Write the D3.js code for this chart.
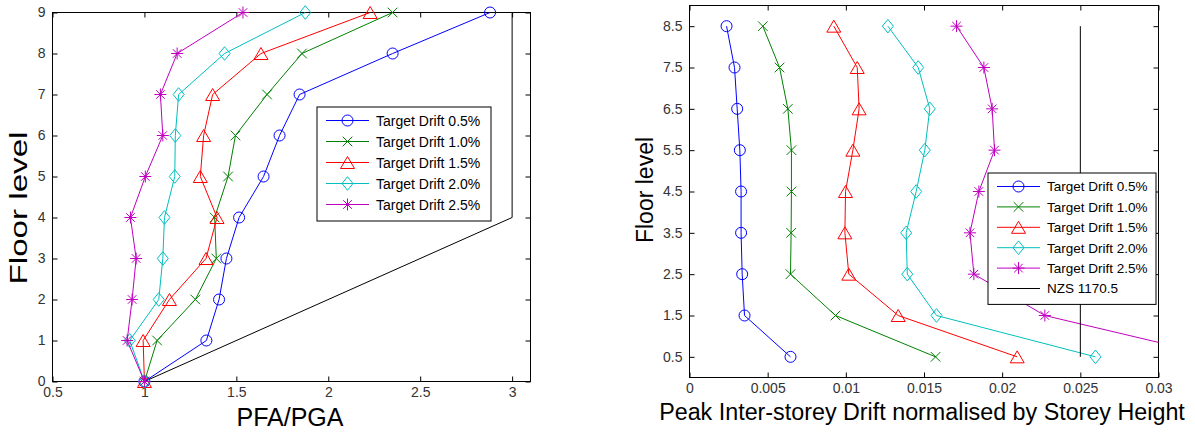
<!DOCTYPE html>
<html>
<head>
<meta charset="utf-8">
<script src="https://cdn.jsdelivr.net/npm/d3@7"></script>
<style>
  html, body { margin: 0; padding: 0; background: #fff; }
  svg { display: block; font-family: "Liberation Sans", Arial, sans-serif; }
  .tick text { fill: #333; }
</style>
</head>
<body>
<svg id="fig" width="1195" height="432"></svg>
<script>
// ---- Peak floor acceleration ratio per floor ----
const floorsL = [0, 1, 2, 3, 4, 5, 6, 7, 8, 9];
const pfa05 = [1.0, 1.337, 1.406, 1.446, 1.515, 1.648, 1.735, 1.844, 2.35, 2.88];
const pfa10 = [1.0, 1.069, 1.277, 1.391, 1.382, 1.455, 1.495, 1.667, 1.857, 2.35];
const pfa15 = [1.0, 0.993, 1.136, 1.335, 1.395, 1.304, 1.322, 1.371, 1.634, 2.228];
const pfa20 = [1.0, 0.92, 1.078, 1.10, 1.109, 1.165, 1.168, 1.186, 1.436, 1.875];
const pfa25 = [1.0, 0.906, 0.933, 0.955, 0.924, 1.005, 1.10, 1.087, 1.178, 1.536];
const codePfaX = [1, 3, 3];
const codePfaY = [0, 4, 9];
const xTicksL = [0.5, 1, 1.5, 2, 2.5, 3];
const yTicksL = [0, 1, 2, 3, 4, 5, 6, 7, 8, 9];

// ---- Peak inter-storey drift per storey ----
const floorsR = [0.5, 1.5, 2.5, 3.5, 4.5, 5.5, 6.5, 7.5, 8.5];
const drift05 = [0.00646, 0.00352, 0.00337, 0.0033, 0.0033, 0.00322, 0.00305, 0.00288, 0.00237];
const drift10 = [0.01574, 0.00934, 0.00646, 0.0065, 0.00652, 0.00652, 0.00629, 0.00576, 0.00469];
const drift15 = [0.02096, 0.01335, 0.01019, 0.00994, 0.00998, 0.01045, 0.01085, 0.01073, 0.00923];
const drift20 = [0.02597, 0.0158, 0.01393, 0.01386, 0.0145, 0.01505, 0.01537, 0.01463, 0.01269];
const drift25 = [0.0339, 0.02273, 0.01819, 0.01794, 0.01851, 0.01951, 0.01936, 0.01883, 0.01708];
const nzsX = [0.025, 0.025];
const nzsY = [0.5, 8.5];
const xTicksR = [0, 0.005, 0.01, 0.015, 0.02, 0.025, 0.03];
const xTickLabelsR = ["0", "0.005", "0.01", "0.015", "0.02", "0.025", "0.03"];
const yTicksR = [0.5, 1.5, 2.5, 3.5, 4.5, 5.5, 6.5, 7.5, 8.5];

const seriesNames = ["Target Drift 0.5%", "Target Drift 1.0%", "Target Drift 1.5%", "Target Drift 2.0%", "Target Drift 2.5%"];
const seriesColors = ["#0000ff", "#008000", "#ff0000", "#00bfbf", "#bf00bf"];
const seriesMarkers = ["circle", "x", "triangle", "diamond", "star"];

const svg = d3.select("#fig");

// Marker path generator (MATLAB-style open markers)
function markerPath(kind, s) {
  switch (kind) {
    case "circle": {
      const r = 5.5 * s;
      return `M${-r},0A${r},${r} 0 1,0 ${r},0A${r},${r} 0 1,0 ${-r},0Z`;
    }
    case "x": {
      const a = 4.8 * s;
      return `M${-a},${-a}L${a},${a}M${-a},${a}L${a},${-a}`;
    }
    case "triangle": {
      const w = 7 * s, h = 6 * s;
      return `M0,${-h}L${w},${h}L${-w},${h}Z`;
    }
    case "diamond": {
      const w = 5.5 * s, h = 6.8 * s;
      return `M0,${-h}L${w},0L0,${h}L${-w},0Z`;
    }
    case "star": {
      const a = 6 * s, d = 4.3 * s;
      return `M${-a},0L${a},0M0,${-a}L0,${a}M${-d},${-d}L${d},${d}M${-d},${d}L${d},${-d}`;
    }
  }
  return "";
}

function drawAxes(g, x, y, xt, xtl, yt) {
  const fs = 14;
  g.append("g")
    .attr("transform", `translate(0,${y.range()[0]})`)
    .call(d3.axisBottom(x).tickValues(xt).tickSize(-5).tickPadding(6)
      .tickFormat((d, i) => xtl ? xtl[i] : d3.format("")(d)))
    .call(a => a.select(".domain").remove())
    .call(a => a.selectAll("text").attr("font-size", fs).attr("font-family", "Liberation Sans, Arial, sans-serif"))
    .call(a => a.selectAll("line").attr("stroke", "#000"));
  g.append("g")
    .attr("transform", `translate(0,${y.range()[1]})`)
    .call(d3.axisTop(x).tickValues(xt).tickSize(-5).tickFormat(""))
    .call(a => a.select(".domain").remove())
    .call(a => a.selectAll("line").attr("stroke", "#000"));
  g.append("g")
    .attr("transform", `translate(${x.range()[0]},0)`)
    .call(d3.axisLeft(y).tickValues(yt).tickSize(-5).tickPadding(7).tickFormat(d3.format("")))
    .call(a => a.select(".domain").remove())
    .call(a => a.selectAll("text").attr("font-size", fs).attr("font-family", "Liberation Sans, Arial, sans-serif"))
    .call(a => a.selectAll("line").attr("stroke", "#000"));
  g.append("g")
    .attr("transform", `translate(${x.range()[1]},0)`)
    .call(d3.axisRight(y).tickValues(yt).tickSize(-5).tickFormat(""))
    .call(a => a.select(".domain").remove())
    .call(a => a.selectAll("line").attr("stroke", "#000"));
  g.append("rect")
    .attr("x", x.range()[0]).attr("y", y.range()[1])
    .attr("width", x.range()[1] - x.range()[0])
    .attr("height", y.range()[0] - y.range()[1])
    .attr("fill", "none").attr("stroke", "#000").attr("stroke-width", 1);
}

function drawSeries(g, x, y, xs, ys, color, marker, ms) {
  const pts = xs.map((v, i) => [v, ys[i]]);
  g.append("path")
    .datum(pts)
    .attr("fill", "none")
    .attr("stroke", color)
    .attr("stroke-width", 1)
    .attr("d", d3.line().x(d => x(d[0])).y(d => y(d[1])));
  g.selectAll(null)
    .data(pts)
    .enter().append("path")
    .attr("transform", d => `translate(${x(d[0])},${y(d[1])})`)
    .attr("d", markerPath(marker, ms))
    .attr("fill", "none")
    .attr("stroke", color)
    .attr("stroke-width", 1);
}

function drawLegend(g, x0, y0, w, rowH, items, fs) {
  const h = rowH * items.length + 9;
  g.append("rect")
    .attr("x", x0).attr("y", y0).attr("width", w).attr("height", h)
    .attr("fill", "#fff").attr("stroke", "#000").attr("stroke-width", 1);
  items.forEach((it, i) => {
    const cy = y0 + 13.5 + i * rowH;
    const lx = x0 + 9;
    g.append("line")
      .attr("x1", lx).attr("x2", lx + 43).attr("y1", cy).attr("y2", cy)
      .attr("stroke", it.color).attr("stroke-width", 1);
    if (it.marker) {
      g.append("path")
        .attr("transform", `translate(${lx + 21.5},${cy})`)
        .attr("d", markerPath(it.marker, 1))
        .attr("fill", "none").attr("stroke", it.color).attr("stroke-width", 1);
    }
    g.append("text")
      .attr("x", lx + 50).attr("y", cy)
      .attr("dy", "0.36em")
      .attr("font-size", fs)
      .attr("fill", "#000")
      .text(it.name);
  });
}

// ================= Left panel: PFA/PGA =================
{
  const x = d3.scaleLinear().domain([0.5, 3.1]).range([52.5, 530.5]);
  const y = d3.scaleLinear().domain([0, 9]).range([381.5, 12.5]);
  const g = svg.append("g");
  drawAxes(g, x, y, xTicksL, null, yTicksL);

  drawSeries(g, x, y, codePfaX, codePfaY, "#000", null, 1);
  const data = [pfa05, pfa10, pfa15, pfa20, pfa25];
  data.forEach((vals, k) => {
    drawSeries(g, x, y, vals, floorsL, seriesColors[k], seriesMarkers[k], 1);
  });

  drawLegend(g, 317, 107, 174, 21,
    seriesNames.map((n, k) => ({ name: n, color: seriesColors[k], marker: seriesMarkers[k] })), 14);

  g.append("text")
    .attr("x", 290).attr("y", 426)
    .attr("text-anchor", "middle")
    .attr("font-size", 25)
    .text("PFA/PGA");
  g.append("text")
    .attr("transform", "translate(27,208) rotate(-90)")
    .attr("text-anchor", "middle")
    .attr("font-size", 23)
    .attr("textLength", 153)
    .attr("lengthAdjust", "spacingAndGlyphs")
    .text("Floor level");
}

// ================= Right panel: inter-storey drift =================
{
  const x = d3.scaleLinear().domain([0, 0.03]).range([689.5, 1158.5]);
  const y = d3.scaleLinear().domain([0, 9]).range([377.5, 5.5]);
  const g = svg.append("g");

  svg.append("defs").append("clipPath").attr("id", "clipR")
    .append("rect")
    .attr("x", x.range()[0]).attr("y", y.range()[1])
    .attr("width", x.range()[1] - x.range()[0])
    .attr("height", y.range()[0] - y.range()[1]);

  drawAxes(g, x, y, xTicksR, xTickLabelsR, yTicksR);

  const plot = g.append("g").attr("clip-path", "url(#clipR)");
  const data = [drift05, drift10, drift15, drift20, drift25];
  data.forEach((vals, k) => {
    drawSeries(plot, x, y, vals, floorsR, seriesColors[k], seriesMarkers[k], 1);
  });
  drawSeries(plot, x, y, nzsX, nzsY, "#000", null, 1);

  const items = seriesNames.map((n, k) => ({ name: n, color: seriesColors[k], marker: seriesMarkers[k] }));
  items.push({ name: "NZS 1170.5", color: "#000", marker: null });
  drawLegend(g, 988, 173, 168, 20.4, items, 13.5);

  g.append("text")
    .attr("x", 922).attr("y", 420)
    .attr("text-anchor", "middle")
    .attr("font-size", 23.3)
    .text("Peak Inter-storey Drift normalised by Storey Height");
  g.append("text")
    .attr("transform", "translate(653,190) rotate(-90)")
    .attr("text-anchor", "middle")
    .attr("font-size", 23)
    .text("Floor level");
}
</script>
</body>
</html>
